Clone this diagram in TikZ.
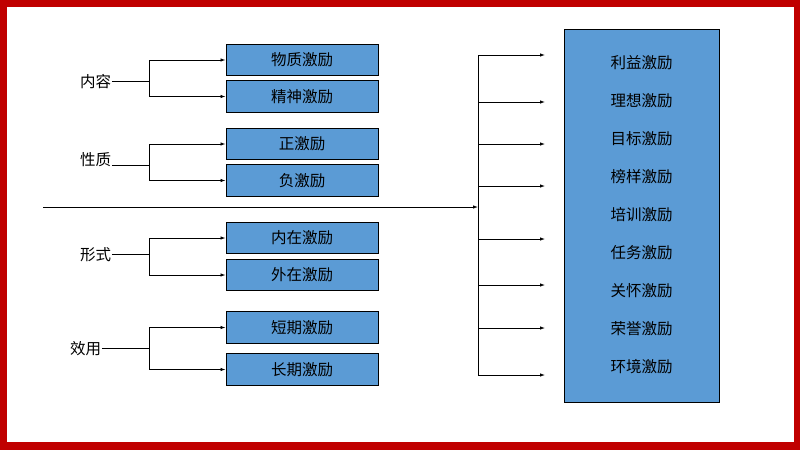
\documentclass[tikz,border=0pt]{standalone}
\usepackage{fontspec}
\setmainfont{Noto Sans CJK SC}
\usetikzlibrary{arrows.meta}
\definecolor{Frame}{HTML}{C00000}
\definecolor{BoxBlue}{HTML}{5B9BD5}

\begin{document}
\begin{tikzpicture}[x=1pt,y=-1pt,line width=0.8pt,>={Latex[length=5pt,width=3.5pt]},
  every node/.style={font=\fontsize{15.5}{18}\selectfont},
  kind/.style={draw,line width=1pt,fill=BoxBlue,minimum width=152pt,minimum height=31.5pt,inner sep=0pt},
  group/.style={inner sep=0.5pt}]
\fill[Frame] (0,0) rectangle (800,450);
\fill[white] (7,7) rectangle (794,442);
% kinds of motivation, left column
\node[kind] (wz) at (302,60) {物质激励};
\node[kind] (js) at (302,96.5) {精神激励};
\node[kind] (zj) at (302,144) {正激励};
\node[kind] (fj) at (302,180.5) {负激励};
\node[kind] (nz) at (302,238) {内在激励};
\node[kind] (wai) at (302,275) {外在激励};
\node[kind] (dq) at (302,327.5) {短期激励};
\node[kind] (cq) at (302,369.5) {长期激励};
% grouping labels
\node[group] (nr) at (95.5,82) {内容};
\node[group] (xz) at (95.5,160) {性质};
\node[group] (xs) at (95.5,255) {形式};
\node[group] (xy) at (85.5,349) {效用};
\coordinate (b1) at (149,81);
\coordinate (b2) at (149,165);
\coordinate (b3) at (149,254);
\coordinate (b4) at (149,348);
\draw (nr.east |- b1) -- (b1);
\draw[->] (b1) |- (wz.west);
\draw[->] (b1) |- (js.west);
\draw (xz.east |- b2) -- (b2);
\draw[->] (b2) |- (zj.west);
\draw[->] (b2) |- (fj.west);
\draw (xs.east |- b3) -- (b3);
\draw[->] (b3) |- (nz.west);
\draw[->] (b3) |- (wai.west);
\draw (xy.east |- b4) -- (b4);
\draw[->] (b4) |- (dq.west);
\draw[->] (b4) |- (cq.west);
% methods, right column
\node[kind,minimum width=155pt,minimum height=373pt] (fs) at (641.5,215.5) {};
\foreach \t [count=\i] in {利益激励,理想激励,目标激励,榜样激励,培训激励,任务激励,关怀激励,荣誉激励,环境激励}
  \node (m\i) at (641.5,{25+38*\i}) {\t};
\coordinate (s) at (43,207);
\coordinate (t) at (478,207);
\coordinate (top) at (478,55);
\coordinate (bot) at (478,375);
\draw[->] (s) -- (t);
\draw (top) -- (bot);
\foreach \y [count=\i] in {55,102,144,186,239,285,328,375}{
  \coordinate (a\i) at (545,\y);
  \draw[->] (top |- a\i) -- (a\i);
}
\end{tikzpicture}
\end{document}
